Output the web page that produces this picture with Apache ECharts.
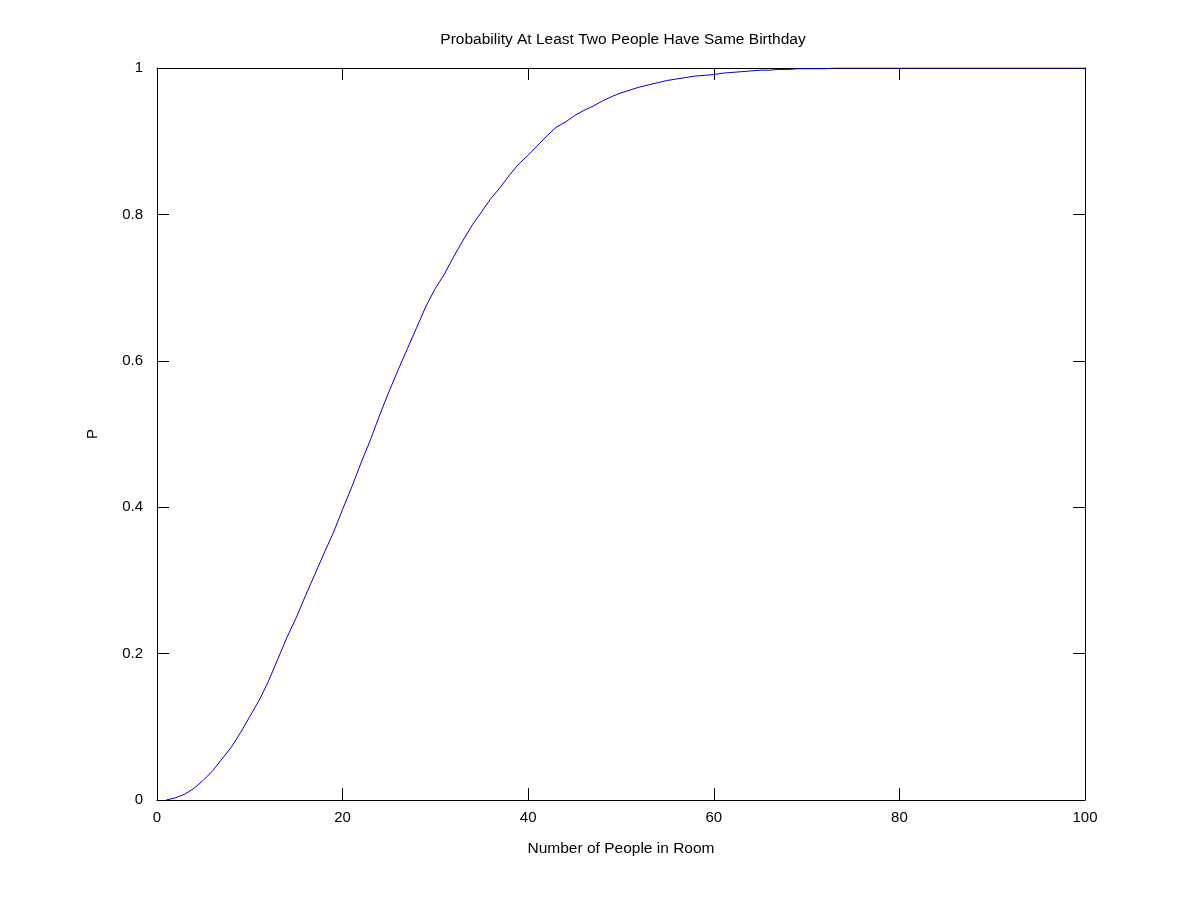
<!DOCTYPE html>
<html>
<head>
<meta charset="utf-8">
<script src="https://cdn.jsdelivr.net/npm/echarts@6/dist/echarts.min.js"></script>
<style>html,body{margin:0;padding:0;background:#fff;}#chart{width:1200px;height:900px;}</style>
</head>
<body>
<div id="chart"></div>
<script>
const titleText = "Probability At Least Two People Have Same Birthday";
const xLabel = "Number of People in Room";
const yLabel = "P";
const people = [1,2,3,4,5,6,7,8,9,10,11,12,13,14,15,16,17,18,19,20,
21,22,23,24,25,26,27,28,29,30,31,32,33,34,35,36,37,38,39,40,
41,42,43,44,45,46,47,48,49,50,51,52,53,54,55,56,57,58,59,60,
61,62,63,64,65,66,67,68,69,70,71,72,73,74,75,76,77,78,79,80,
81,82,83,84,85,86,87,88,89,90,91,92,93,94,95,96,97,98,99,100];
const probability = [0,0.003,0.008,0.016,0.027,0.040,0.056,0.072,0.092,0.114,
0.136,0.162,0.192,0.222,0.249,0.279,0.308,0.337,0.365,0.397,
0.428,0.461,0.492,0.526,0.558,0.588,0.617,0.646,0.675,0.699,
0.719,0.743,0.765,0.786,0.804,0.822,0.837,0.854,0.869,0.881,
0.894,0.907,0.919,0.926,0.935,0.942,0.948,0.955,0.961,0.966,
0.970,0.974,0.977,0.980,0.983,0.985,0.987,0.989,0.990,0.991,
0.993,0.994,0.995,0.996,0.997,0.997,0.998,0.998,0.999,0.999,
0.999,0.999,1,1,1,1,1,1,1,1,
1,1,1,1,1,1,1,1,1,1,
1,1,1,1,1,1,1,1,1,1];
const xTicks = {min: 0, max: 100, interval: 20};
const yTicks = {min: 0, max: 1, interval: 0.2};

const seriesData = people.map((p, i) => [p, probability[i]]);
const font = "Liberation Sans, Arial, sans-serif";
const axisLine = {show: true, onZero: false, lineStyle: {color: '#000', width: 1}};
const tickIn = {show: true, inside: true, length: 12, lineStyle: {color: '#000', width: 1}};

const chart = echarts.init(document.getElementById('chart'), null, {renderer: 'canvas'});
chart.setOption({
  animation: false,
  backgroundColor: '#fff',
  title: {
    text: titleText, left: 618, textAlign: 'center', top: 27,
    textStyle: {fontFamily: font, fontSize: 15.5, fontWeight: 'normal', color: '#000'}
  },
  grid: {left: 157, right: 115, top: 68, bottom: 100, containLabel: false},
  xAxis: [
    {type: 'value', position: 'bottom', min: xTicks.min, max: xTicks.max, interval: xTicks.interval,
     name: xLabel, nameLocation: 'middle', nameGap: 41,
     nameTextStyle: {fontFamily: font, fontSize: 15.5, color: '#000'},
     axisLine: axisLine, axisTick: tickIn, splitLine: {show: false},
     axisLabel: {fontFamily: font, fontSize: 15, color: '#000', margin: 10}},
    {type: 'value', position: 'top', min: xTicks.min, max: xTicks.max, interval: xTicks.interval,
     axisLine: axisLine, axisTick: tickIn, splitLine: {show: false}, axisLabel: {show: false}}
  ],
  yAxis: [
    {type: 'value', position: 'left', min: yTicks.min, max: yTicks.max, interval: yTicks.interval,
     name: yLabel, nameLocation: 'middle', nameGap: 57, nameRotate: 90,
     nameTextStyle: {fontFamily: font, fontSize: 15, color: '#000'},
     axisLine: axisLine, axisTick: tickIn, splitLine: {show: false},
     axisLabel: {fontFamily: font, fontSize: 15, color: '#000', margin: 14}},
    {type: 'value', position: 'right', min: yTicks.min, max: yTicks.max, interval: yTicks.interval,
     axisLine: axisLine, axisTick: tickIn, splitLine: {show: false}, axisLabel: {show: false}}
  ],
  series: [{
    type: 'line', data: seriesData, xAxisIndex: 0, yAxisIndex: 0,
    showSymbol: false, symbol: 'none', smooth: false,
    lineStyle: {color: '#0000c0', width: 1}
  }]
});
</script>
</body>
</html>
